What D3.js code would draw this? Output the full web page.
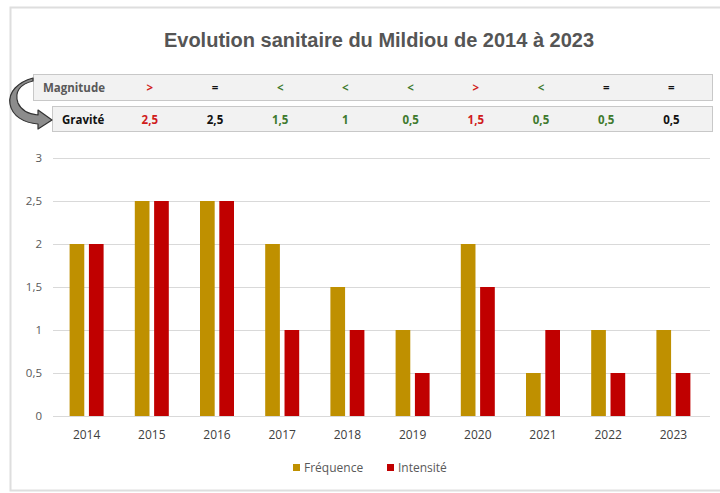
<!DOCTYPE html>
<html>
<head>
<meta charset="utf-8">
<script src="https://cdn.jsdelivr.net/npm/d3@7"></script>
<style>
    body { margin: 0; background: #fff; }
    svg { display: block; font-family: "Open Sans", "Liberation Sans", sans-serif; }
</style>
</head>
<body>
<div id="chart"></div>
<script>
(function () {

    // chart data
    const years = ['2014', '2015', '2016', '2017', '2018', '2019', '2020', '2021', '2022', '2023'];
    const frequence = [2, 2.5, 2.5, 2, 1.5, 1, 2, 0.5, 1, 1];
    const intensite = [2, 2.5, 2.5, 1, 1, 0.5, 1.5, 1, 0.5, 0.5];
    const yTicks = [0, 0.5, 1, 1.5, 2, 2.5, 3];

    // table rows (2015 -> 2023)
    const tableYears = ['2015', '2016', '2017', '2018', '2019', '2020', '2021', '2022', '2023'];
    const magnitude = ['>', '=', '<', '<', '<', '>', '<', '=', '='];
    const magnitudeTone = ['up', 'same', 'down', 'down', 'down', 'up', 'down', 'same', 'same'];
    const gravite = ['2,5', '2,5', '1,5', '1', '0,5', '1,5', '0,5', '0,5', '0,5'];
    const graviteTone = ['up', 'same', 'down', 'down', 'down', 'up', 'down', 'down', 'same'];

    const seriesNames = ['Fréquence', 'Intensité'];
    const seriesColors = ['#bf9000', '#c00000'];
    const toneColor = { up: '#d01c1c', same: '#111', down: '#3f7a2e' };

    const width = 720;
    const height = 493;
    const fmt = v => String(v).replace('.', ',');

    const svg = d3.select('#chart')
        .append('svg')
        .attr('width', width)
        .attr('height', height);

    // outer frame
    svg.append('rect')
        .attr('x', 10.5).attr('y', 7.5)
        .attr('width', 720).attr('height', 483)
        .attr('fill', 'none')
        .attr('stroke', '#dedede')
        .attr('stroke-width', 2);

    svg.append('text')
        .attr('x', 379).attr('y', 47)
        .attr('text-anchor', 'middle')
        .attr('font-family', 'Liberation Sans, Arial, sans-serif')
        .attr('font-weight', 'bold')
        .attr('font-size', 20)
        .attr('fill', '#555')
        .text('Evolution sanitaire du Mildiou de 2014 à 2023');

    const x = d3.scaleBand()
        .domain(years)
        .range([54, 706])
        .paddingInner(0)
        .paddingOuter(0);

    const y = d3.scaleLinear()
        .domain([0, 3])
        .range([416, 158]);

    const sub = d3.scaleBand()
        .domain(seriesNames)
        .range([x.bandwidth() / 2 - 17, x.bandwidth() / 2 + 17])
        .paddingInner(0.24);

    // table
    const table = svg.append('g');
    table.append('rect')
        .attr('x', 33.5).attr('y', 74.5)
        .attr('width', 679).attr('height', 26)
        .attr('fill', '#f2f2f2')
        .attr('stroke', '#c8c8c8');
    table.append('rect')
        .attr('x', 52.5).attr('y', 106.5)
        .attr('width', 660).attr('height', 25)
        .attr('fill', '#f2f2f2')
        .attr('stroke', '#c8c8c8');

    table.append('text')
        .attr('x', 43).attr('y', 92)
        .attr('font-size', 11.5).attr('font-weight', 'bold')
        .attr('fill', '#595959')
        .text('Magnitude');
    table.append('text')
        .attr('x', 62).attr('y', 124)
        .attr('font-size', 11.5).attr('font-weight', 'bold')
        .attr('fill', '#111')
        .text('Gravité');

    const colX = d => x(d) + x.bandwidth() / 2 - 2;

    table.selectAll('.mag')
        .data(tableYears)
        .join('text')
        .attr('class', 'mag')
        .attr('x', colX)
        .attr('y', 92)
        .attr('text-anchor', 'middle')
        .attr('font-size', 11.5).attr('font-weight', 'bold')
        .attr('fill', (d, i) => toneColor[magnitudeTone[i]])
        .text((d, i) => magnitude[i]);

    table.selectAll('.grav')
        .data(tableYears)
        .join('text')
        .attr('class', 'grav')
        .attr('x', colX)
        .attr('y', 124)
        .attr('text-anchor', 'middle')
        .attr('font-size', 11.5).attr('font-weight', 'bold')
        .attr('fill', (d, i) => toneColor[graviteTone[i]])
        .text((d, i) => gravite[i]);

    // curved arrow from Magnitude to Gravité
    svg.append('path')
        .attr('d', 'M33,81 C20,84 14,92 18,103 C21,110 28,114 38,115 L38,110 L52,120 L38,129 L38,124 C24,123 12,116 10,104 C8,92 18,82 33,78 Z')
        .attr('fill', '#8c8c8c')
        .attr('stroke', '#333')
        .attr('stroke-width', 1.2)
        .attr('stroke-linejoin', 'round');

    // gridlines
    svg.append('g')
        .selectAll('line')
        .data(yTicks)
        .join('line')
        .attr('x1', 53).attr('x2', 710)
        .attr('y1', d => Math.round(y(d)) + 0.5)
        .attr('y2', d => Math.round(y(d)) + 0.5)
        .attr('stroke', '#d9d9d9');

    // y axis labels
    const yAxis = svg.append('g')
        .attr('transform', 'translate(42,0)')
        .call(d3.axisLeft(y).tickValues(yTicks).tickFormat(fmt).tickSize(0).tickPadding(0));
    yAxis.select('.domain').remove();
    yAxis.selectAll('text')
        .attr('font-size', 11.5)
        .attr('font-family', 'Open Sans, sans-serif')
        .attr('fill', '#595959');

    // x axis labels
    const xAxis = svg.append('g')
        .attr('transform', 'translate(0,' + 428 + ')')
        .call(d3.axisBottom(x).tickSize(0).tickPadding(0));
    xAxis.select('.domain').remove();
    xAxis.selectAll('text')
        .attr('font-size', 12)
        .attr('font-family', 'Open Sans, sans-serif')
        .attr('fill', '#404040')
        .attr('dy', '0.9em');

    // bars
    const rows = years.map((yr, i) => ({ year: yr, values: [frequence[i], intensite[i]] }));

    svg.append('g')
        .selectAll('g')
        .data(rows)
        .join('g')
        .attr('transform', d => 'translate(' + x(d.year) + ',0)')
        .selectAll('rect')
        .data(d => d.values.map((v, k) => ({ key: seriesNames[k], value: v, k })))
        .join('rect')
        .attr('x', d => sub(d.key))
        .attr('width', sub.bandwidth())
        .attr('y', d => y(d.value))
        .attr('height', d => y(0) - y(d.value))
        .attr('fill', d => seriesColors[d.k]);

    // legend
    const legendX = [293, 387];
    const legend = svg.append('g')
        .selectAll('g')
        .data(seriesNames)
        .join('g')
        .attr('transform', (d, i) => 'translate(' + legendX[i] + ',464)');
    legend.append('rect')
        .attr('width', 7).attr('height', 7)
        .attr('fill', (d, i) => seriesColors[i]);
    legend.append('text')
        .attr('x', 11).attr('y', 8)
        .attr('font-size', 12)
        .attr('font-family', 'Open Sans, sans-serif')
        .attr('fill', '#595959')
        .text(d => d);
})();
</script>
</body>
</html>
